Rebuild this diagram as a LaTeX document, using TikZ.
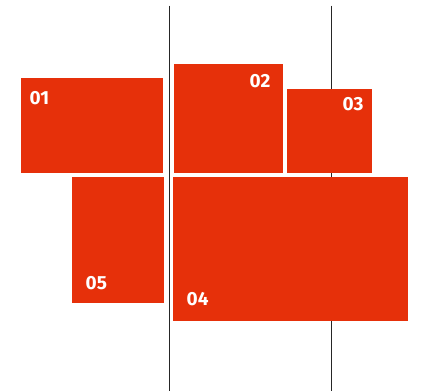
\documentclass[tikz,border=0pt]{standalone}
\usepackage{fontspec}
\setmainfont{Fira Sans}
\usepackage{xcolor}
\usepackage{tikz}
\usetikzlibrary{positioning}
\definecolor{panelred}{RGB}{230,48,10}

\begin{document}
\begin{tikzpicture}[
    x=1pt, y=-1pt,
    font=\fontsize{19}{19}\selectfont\bfseries,
    panel/.style={
        fill=panelred,
        draw=none,
        inner sep=0pt,
        outer sep=0pt,
        anchor=north west
    },
    tag/.style={
        text=white,
        inner sep=0pt,
        anchor=base west
    },
    guide/.style={draw=black!85, line width=0.8pt}
]
\useasboundingbox (0,0) rectangle (425,391);

% vertical guide lines
\coordinate (g1top) at (169, 5.7);
\coordinate (g1bot) at (169, 391);
\coordinate (g2top) at (331.7, 5.7);
\coordinate (g2bot) at (331.7, 391);
\draw[guide] (g1top) -- (g1bot);
\draw[guide] (g2top) -- (g2bot);

% panels
\node[panel, minimum width=142pt, minimum height=94.7pt] (p01) at (21, 78)  {};
\node[panel, minimum width=109pt, minimum height=108.7pt] (p02) at (174, 64) {};
\node[panel, minimum width=85pt,  minimum height=83.7pt] (p03) at (287, 89)  {};
\node[panel, minimum width=235pt, minimum height=144pt]  (p04) at (173, 177) {};
\node[panel, minimum width=92pt,  minimum height=126pt]  (p05) at (72, 177)  {};

% labels
\node[tag] (t01) at (29.5, 104)   {01};
\node[tag] (t02) at (249.5, 87.3) {02};
\node[tag] (t03) at (342.5, 110.7) {03};
\node[tag] (t04) at (186.5, 305.7) {04};
\node[tag] (t05) at (85.5, 289.7) {05};

\end{tikzpicture}
\end{document}
